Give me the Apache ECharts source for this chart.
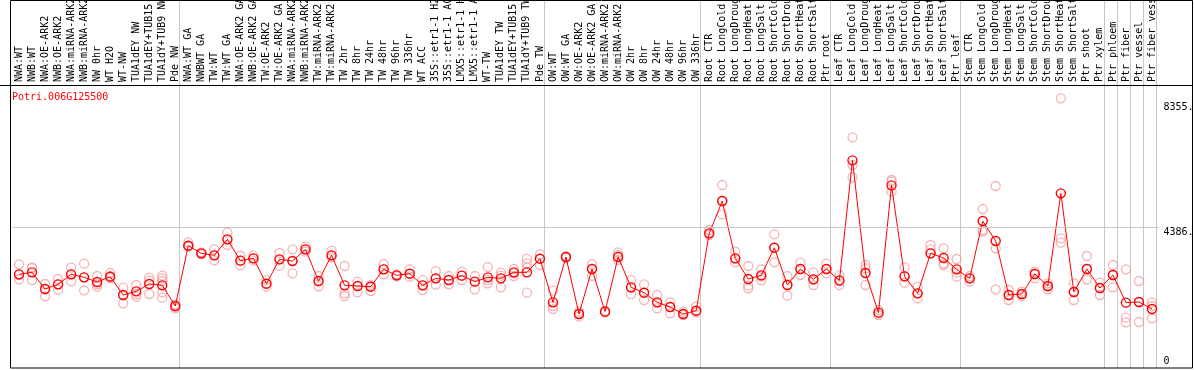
<!DOCTYPE html>
<html>
<head>
<meta charset="utf-8">
<script src="https://cdn.jsdelivr.net/npm/echarts@6/dist/echarts.min.js"></script>
<style>
html,body{margin:0;padding:0;background:#fff;}
#chart{width:1194px;height:370px;}
</style>
</head>
<body>
<div id="chart"></div>
<script>
const geneId = 'Potri.006G125500';

const categories = [
  'NWA:WT','NWB:WT','NWA:OE-ARK2','NWB:OE-ARK2','NWA:miRNA-ARK2','NWB:miRNA-ARK2','NW 0hr','WT H2O','WT-NW','TUA1dEY NW','TUA1dEY+TUB15 NW','TUA1dY+TUB9 NW','Pde NW',
  'NWA:WT GA','NWBWT GA','TW:WT','TW:WT GA','NWA:OE-ARK2 GA','NWB:OE-ARK2 GA','TW:OE-ARK2','TW:OE-ARK2 GA','NWA:miRNA-ARK2','NWB:miRNA-ARK2','TW:miRNA-ARK2','TW:miRNA-ARK2',
  'TW 2hr','TW 8hr','TW 24hr','TW 48hr','TW 96hr','TW 336hr','WT ACC','35S::etr1-1 H2O','35S::etr1-1 ACC','LMX5::etr1-1 H2O','LMX5::etr1-1 ACC','WT-TW','TUA1dEY TW','TUA1dEY+TUB15 TW','TUA1dY+TUB9 TW','Pde TW',
  'OW:WT','OW:WT GA','OW:OE-ARK2','OW:OE-ARK2 GA','OW:miRNA-ARK2','OW:miRNA-ARK2','OW 2hr','OW 8hr','OW 24hr','OW 48hr','OW 96hr','OW 336hr',
  'Root CTR','Root LongCold','Root LongDrought','Root LongHeat','Root LongSalt','Root ShortCold','Root ShortDrought','Root ShortHeat','Root ShortSalt','Ptr root',
  'Leaf CTR','Leaf LongCold','Leaf LongDrought','Leaf LongHeat','Leaf LongSalt','Leaf ShortCold','Leaf ShortDrought','Leaf ShortHeat','Leaf ShortSalt','Ptr leaf',
  'Stem CTR','Stem LongCold','Stem LongDrought','Stem LongHeat','Stem LongSalt','Stem ShortCold','Stem ShortDrought','Stem ShortHeat','Stem ShortSalt','Ptr shoot','Ptr xylem',
  'Ptr phloem','Ptr fiber','Ptr vessel','Ptr fiber vessel'
];

const meanValues = [
  2903,2966,2438,2586,2903,2808,2660,2829,2248,2364,2597,2555,1900,
  3811,3568,3505,4011,3336,3410,2607,3378,3325,3695,2692,3505,
  2555,2533,2512,3061,2871,2924,2555,2776,2723,2861,2671,2808,2776,2966,2966,3399,
  2016,3452,1647,3072,1721,3452,2491,2322,2016,1868,1647,1752,
  4201,5225,3410,2755,2871,3747,2565,3072,2745,3072,
  2713,6513,2945,1689,5722,2840,2301,3568,3420,3061,
  2776,4592,3959,2249,2280,2914,2533,5468,2344,3072,2470,
  2882,2006,2027,1805
];

const replicateValues = [
  [3220,2882,2745],[3125,3093,2723],[2597,2438,2206],[2755,2586,2417],[3114,2903,2681],[3241,2808,2396],[2850,2586,2512],[2945,2850,2776],[2481,2248,1984],[2565,2269,2196],[2797,2702,2280],[2861,2776,2692,2333,2164],[1953,1879,1826],
  [3916,3811,3779],[3600,3568,3536],[3695,3515,3346],[4222,4011,3832],[3494,3336,3188],[3494,3410,3336],[2723,2607,2512],[3579,3378,3177],[3695,3325,2935],[3779,3695,3621],[2850,2692,2523],[3652,3505,3441],
  [3167,2301,2217],[2671,2533,2333],[2565,2512,2375],[3230,3061,2903],[2903,2871,2840],[3061,2924,2829],[2723,2555,2407],[3008,2776,2576],[2850,2723,2586],[2987,2861,2723],[2850,2671,2428],[3135,2723,2618],[2956,2861,2491],[3072,2935,2850],[3399,3251,3114,2322],[3536,3399,3198],
  [2386,1900,1805],[3473,3452,3431],[1721,1647,1562],[3230,3072,2850],[1742,1721,1700],[3600,3515,3357],[2723,2491,2269],[2586,2322,2090],[2248,2016,1826],[2016,1868,1668],[1721,1647,1615],[1879,1752,1700],
  [4307,4201,4149],[5732,5225,4800],[3621,3410,3283],[3167,2544,2460],[3061,2829,2723],[4170,3747,3283],[2850,2565,2227],[3272,3072,2882],[2966,2745,2565],[3241,3072,2935],
  [2880,2690,2560],[7242,6366,5975],[3199,3093,2565],[1773,1689,1615],[5891,5838,5521],[3125,2840,2639],[2512,2301,2143],[3832,3695,3568],[3726,3251,3199],[3389,2956,2829],
  [2850,2776,2671],[4972,4307,4254],[5701,3726,2428],[2407,2249,2090],[2354,2280,2217],[2987,2914,2776],[2618,2512,2428],[8477,4043,3906],[2618,2354,2090],[3484,3072,2745],[2639,2470,2249],
  [3199,2882,2491],[3061,1530,1383],[2692,2027,1393],[2006,1900,1509]
];

const yTickValues = [4386, 8355];
const yZeroTick = [0];
const gridLineValue = 4386;
const groupStarts = [13, 41, 53, 63, 73, 84, 85, 86, 87];

const MONO = 'DejaVu Sans Mono';
const chart = echarts.init(document.getElementById('chart'), null, {renderer: 'canvas'});

const scatterData = [];
replicateValues.forEach((arr, i) => arr.forEach(v => scatterData.push([i, v])));

chart.setOption({
  animation: false,
  backgroundColor: '#fff',
  title: {
    text: geneId, left: 12, top: 92, padding: 0,
    textStyle: {color: '#ff0000', fontFamily: MONO, fontSize: 10, fontWeight: 'normal'}
  },
  grid: [
    {left: 12.5, right: 35.5, top: 85, bottom: 4, containLabel: false, outerBoundsMode: 'none'},
    {left: 10, right: 38, top: 0, bottom: 2, containLabel: false, outerBoundsMode: 'none'}
  ],
  xAxis: [
    {
      type: 'category', gridIndex: 0, data: categories, position: 'top', boundaryGap: true,
      axisLine: {show: false}, axisTick: {show: false}, splitLine: {show: false},
      axisLabel: {interval: 0, rotate: 90, margin: 3, fontFamily: MONO, fontSize: 10, color: '#000', hideOverlap: false}
    },
    {
      type: 'category', gridIndex: 1, data: categories, boundaryGap: true,
      axisLine: {show: false}, axisTick: {show: false}, axisLabel: {show: false},
      splitLine: {show: true, interval: (i) => groupStarts.indexOf(i) >= 0, lineStyle: {color: '#c8c8c8', width: 1}}
    }
  ],
  yAxis: [
    {
      type: 'value', gridIndex: 0, min: 0, max: 8900, position: 'right', offset: 0,
      axisLine: {show: false}, axisTick: {show: false}, splitLine: {show: false},
      axisLabel: {customValues: yTickValues, formatter: (v) => v + '.', verticalAlign: 'top', margin: 5,
        fontFamily: MONO, fontSize: 10, color: '#000'}
    },
    {
      type: 'value', gridIndex: 0, min: 0, max: 8900, position: 'right', offset: 0,
      axisLine: {show: false}, axisTick: {show: false}, splitLine: {show: false},
      axisLabel: {customValues: yZeroTick, formatter: (v) => String(v), verticalAlign: 'bottom', margin: 5,
        fontFamily: MONO, fontSize: 10, color: '#000'}
    },
    {type: 'value', gridIndex: 1, show: false}
  ],
  series: [
    {
      type: 'scatter', xAxisIndex: 0, yAxisIndex: 0, data: scatterData,
      symbol: 'circle', symbolSize: 9, z: 2,
      itemStyle: {color: 'rgba(255,255,255,0)', borderColor: '#f2a0a0', borderWidth: 1.3},
      markLine: {
        silent: true, symbol: 'none', label: {show: false},
        lineStyle: {color: '#c8c8c8', type: 'solid', width: 1},
        data: [{yAxis: gridLineValue}]
      }
    },
    {
      type: 'line', xAxisIndex: 0, yAxisIndex: 0, data: meanValues,
      symbol: 'circle', symbolSize: 9, showAllSymbol: true, z: 3,
      lineStyle: {color: '#ff0000', width: 1},
      itemStyle: {color: 'rgba(255,255,255,0)', borderColor: '#ff0000', borderWidth: 1.4}
    }
  ],
  graphic: [
    {type: 'rect', silent: true, z: 10, shape: {x: 10.5, y: 0.5, width: 1182, height: 367.5},
      style: {fill: 'none', stroke: '#000', lineWidth: 1}},
    {type: 'line', silent: true, z: 10, shape: {x1: 0, y1: 85.5, x2: 1193, y2: 85.5},
      style: {stroke: '#000', lineWidth: 1}}
  ]
});
</script>
</body>
</html>
